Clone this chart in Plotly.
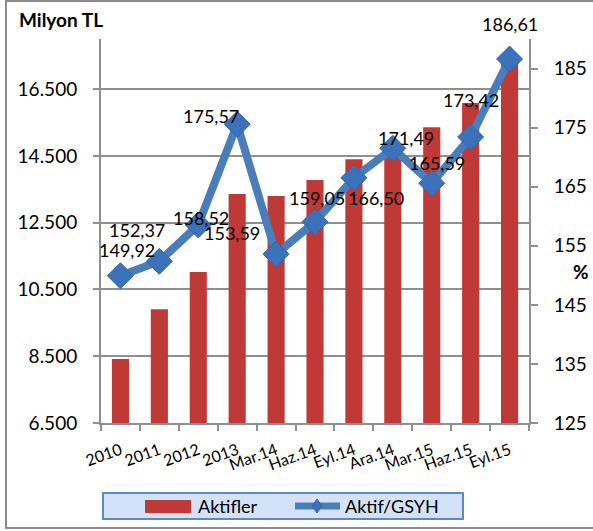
import plotly.graph_objects as go

# Data
periods = ["2010", "2011", "2012", "2013", "Mar.14", "Haz.14", "Eyl.14",
           "Ara.14", "Mar.15", "Haz.15", "Eyl.15"]
aktifler = [8420, 9910, 11020, 13360, 13300, 13780, 14400, 14700, 15360, 16080, 17330]
aktif_gsyh = [149.92, 152.37, 158.52, 175.57, 153.59, 159.05, 166.50, 171.49,
              165.59, 173.42, 186.61]

left_ticks = [6500, 8500, 10500, 12500, 14500, 16500]
right_ticks = [125, 135, 145, 155, 165, 175, 185]

# pixel offsets of the value labels (mimic Excel placement)
label_shifts = [(7, 26), (-22, 31), (3, 7), (-26, 8), (-44, 21), (2, 24),
                (22, -20), (13, 10), (5, 20), (0, 37), (0, 35)]

FONT = "Lato, 'Open Sans', sans-serif"
GRID = "#8f8f8f"
RED = "#BF3A37"
BLUE = "#4A7EBB"
W, H = 593, 531
L, R, T, B = 101, 64, 39, 108
PW, PH = W - L - R, H - T - B


def px_x(x):
    return (x - L) / PW


def px_y(y):
    return (H - B - y) / PH


def tr_num(v, dec=0):
    # Turkish number format: "." thousands, "," decimals
    s = f"{v:,.{dec}f}"
    return s.replace(",", "#").replace(".", ",").replace("#", ".")


fig = go.Figure()

fig.add_trace(go.Bar(
    x=periods, y=aktifler, name="Aktifler",
    marker=dict(color=RED, line=dict(width=0)),
    yaxis="y",
))

fig.add_trace(go.Scatter(
    x=periods, y=aktif_gsyh, name="Aktif/GSYH",
    mode="lines+markers",
    line=dict(color=BLUE, width=8),
    marker=dict(symbol="diamond", size=20, color="#3B72B9",
                line=dict(color="#3566A6", width=1)),
    yaxis="y2",
))

for i, (v, (dx, dy)) in enumerate(zip(aktif_gsyh, label_shifts)):
    fig.add_annotation(
        x=i, y=v, xref="x", yref="y2",
        text=tr_num(v, 2),
        showarrow=False, xshift=dx, yshift=dy,
        font=dict(family=FONT, size=18, color="black"),
    )

fig.add_annotation(
    x=px_x(17), y=px_y(20), xref="paper", yref="paper",
    text="<b>Milyon TL</b>", showarrow=False, xanchor="left", yanchor="middle",
    font=dict(family=FONT, size=19, color="black"),
)
fig.add_annotation(
    x=px_x(581), y=px_y(271), xref="paper", yref="paper",
    text="<b>%</b>", showarrow=False, xanchor="center", yanchor="middle",
    font=dict(family=FONT, size=19, color="black"),
)

# outer chart frame
fig.add_shape(
    type="rect", xref="paper", yref="paper",
    x0=px_x(6), x1=px_x(600), y0=px_y(528), y1=px_y(1),
    line=dict(color="#8c8c8c", width=2), layer="below",
)

# custom legend box, Excel style
fig.add_shape(
    type="rect", xref="paper", yref="paper",
    x0=px_x(103), x1=px_x(463), y0=px_y(519), y1=px_y(493),
    fillcolor="#D3E2F7", line=dict(color="#5B8ACB", width=2),
)
fig.add_shape(
    type="rect", xref="paper", yref="paper",
    x0=px_x(145), x1=px_x(191), y0=px_y(513), y1=px_y(500),
    fillcolor=RED, line=dict(width=0),
)
fig.add_annotation(
    x=px_x(196), y=px_y(506), xref="paper", yref="paper",
    text="Aktifler", showarrow=False, xanchor="left", yanchor="middle",
    font=dict(family=FONT, size=18, color="black"),
)
fig.add_shape(
    type="line", xref="paper", yref="paper",
    x0=px_x(295), x1=px_x(340), y0=px_y(506), y1=px_y(506),
    line=dict(color=BLUE, width=7),
)
fig.add_shape(
    type="path", xref="paper", yref="paper",
    path=(f"M {px_x(317)} {px_y(499)} L {px_x(322)} {px_y(506)} "
          f"L {px_x(317)} {px_y(513)} L {px_x(312)} {px_y(506)} Z"),
    fillcolor="#3B72B9", line=dict(color="#3566A6", width=1),
)
fig.add_annotation(
    x=px_x(343), y=px_y(506), xref="paper", yref="paper",
    text="Aktif/GSYH", showarrow=False, xanchor="left", yanchor="middle",
    font=dict(family=FONT, size=18, color="black"),
)

fig.update_layout(
    template="none",
    width=W, height=H,
    margin=dict(l=L, r=R, t=T, b=B, autoexpand=False),
    paper_bgcolor="white", plot_bgcolor="white",
    bargap=0.56,
    showlegend=False,
    font=dict(family=FONT, size=18, color="black"),
    xaxis=dict(
        type="category", range=[-0.5, len(periods) - 0.5], tickangle=-20,
        ticks="outside", ticklen=6, tickcolor=GRID, tickwidth=2,
        tickson="boundaries", ticklabelstandoff=10,
        showline=True, linecolor=GRID, linewidth=2,
        tickfont=dict(family=FONT, size=16),
        showgrid=False,
    ),
    yaxis=dict(
        range=[6500, 18000], tickvals=left_ticks,
        ticktext=[tr_num(t) for t in left_ticks],
        showgrid=True, gridcolor=GRID, gridwidth=2,
        showline=True, linecolor=GRID, linewidth=2,
        ticks="outside", ticklen=6, tickcolor=GRID, tickwidth=2,
        ticklabelstandoff=12,
        zeroline=False,
        tickfont=dict(family=FONT, size=19),
    ),
    yaxis2=dict(
        range=[125, 190], tickvals=right_ticks, overlaying="y", side="right",
        showgrid=False, showline=True, linecolor=GRID, linewidth=2,
        ticks="outside", ticklen=7, tickcolor=GRID, tickwidth=2,
        ticklabelstandoff=12,
        zeroline=False,
        tickfont=dict(family=FONT, size=19),
    ),
)

# drop the default 8px page margin so the chart fills the window exactly
fig.write_html("out.html", config={"displayModeBar": False},
               post_script="document.body.style.margin='0';")
